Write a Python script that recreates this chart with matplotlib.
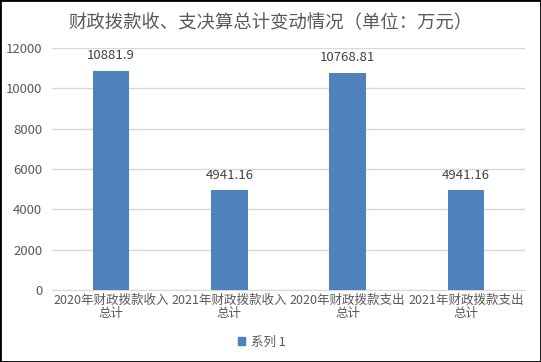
import matplotlib.pyplot as plt
from matplotlib.patches import Rectangle, Patch

plt.rcParams['font.family'] = ['Noto Sans CJK SC', 'DejaVu Sans']

# === DATA ===
categories = ["2020年财政拨款收入\n总计", "2021年财政拨款收入\n总计",
              "2020年财政拨款支出\n总计", "2021年财政拨款支出\n总计"]
values = [10881.9, 4941.16, 10768.81, 4941.16]
value_labels = ["10881.9", "4941.16", "10768.81", "4941.16"]
series_name = "系列 1"
title = "财政拨款收、支决算总计变动情况（单位：万元）"

BAR_COLOR = "#4f81bd"
TEXT_GRAY = "#595959"

fig = plt.figure(figsize=(5.41, 3.62), dpi=100)
ax = fig.add_axes([0.0961, 0.199, 0.8743, 0.6684])

x = range(len(categories))
bars = ax.bar(x, values, width=0.31, color=BAR_COLOR, zorder=3)

for b, lab in zip(bars, value_labels):
    ax.annotate(lab, (b.get_x() + b.get_width() / 2, b.get_height()),
                xytext=(0, 6), textcoords="offset points",
                ha="center", va="bottom", fontsize=9.5, color="#404040")

ax.set_xlim(-0.5, len(categories) - 0.5)
ax.set_ylim(0, 12000)
ax.set_yticks(range(0, 12001, 2000))
ax.yaxis.grid(True, color="#d9d9d9", linewidth=1, zorder=0)
ax.set_xticks(list(x))
ax.set_xticklabels(categories, fontsize=9, color=TEXT_GRAY, linespacing=1.0)
ax.tick_params(axis="y", labelsize=9.5, labelcolor=TEXT_GRAY, length=0, pad=7)
ax.tick_params(axis="x", length=0, pad=3)
for s in ["top", "right", "left"]:
    ax.spines[s].set_visible(False)
ax.spines["bottom"].set_color("#d9d9d9")

fig.text(0.5, 0.937, title, ha="center", va="center", fontsize=13.2, color=TEXT_GRAY)

fig.legend(handles=[Patch(color=BAR_COLOR, label=series_name)],
           loc="center", bbox_to_anchor=(0.484, 0.055), frameon=False,
           fontsize=9, labelcolor=TEXT_GRAY, handlelength=0.6, handleheight=0.6,
           handletextpad=0.5)

# figure border
fig.patches.append(Rectangle((0, 0), 1, 1, transform=fig.transFigure,
                             fill=False, edgecolor="black", linewidth=2))

fig.savefig("out.png", dpi=100)
